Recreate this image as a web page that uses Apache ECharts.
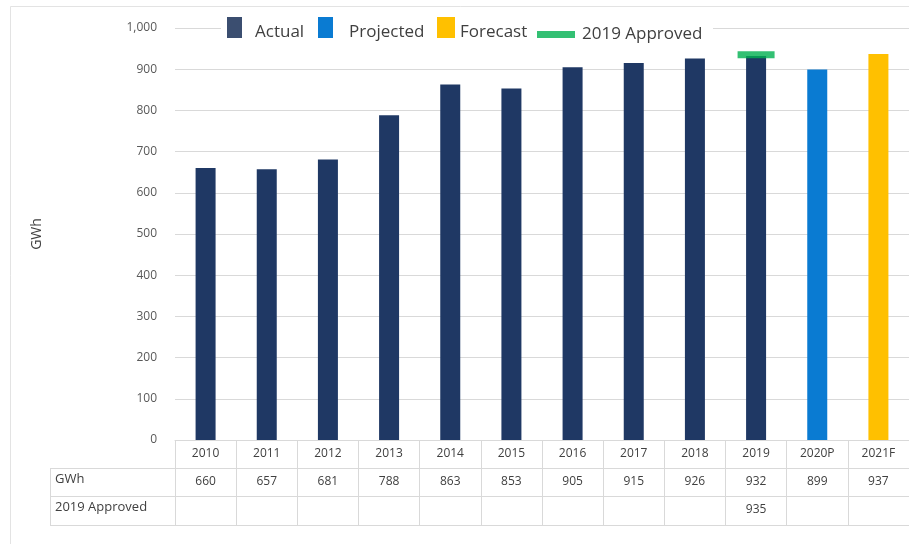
<!DOCTYPE html>
<html>
<head>
<meta charset="utf-8">
<script src="https://cdn.jsdelivr.net/npm/echarts@6/dist/echarts.min.js"></script>
<style>
  html, body { margin: 0; padding: 0; background: #fff; }
  #chart { width: 909px; height: 544px; }
</style>
</head>
<body>
<div id="chart"></div>
<script>
// Annual energy (GWh), actual through 2019, then projected and forecast
const categories = ['2010', '2011', '2012', '2013', '2014', '2015', '2016', '2017', '2018', '2019', '2020P', '2021F'];
const gwh = [660, 657, 681, 788, 863, 853, 905, 915, 926, 932, 899, 937];
const kind = ['A', 'A', 'A', 'A', 'A', 'A', 'A', 'A', 'A', 'A', 'P', 'F'];
const approved2019 = [null, null, null, null, null, null, null, null, null, 935, null, null];
const yTicks = [0, 100, 200, 300, 400, 500, 600, 700, 800, 900, 1000];

const FONT = '"Open Sans", "Liberation Sans", sans-serif';
const GRID_LINE = '#d9d9d9';
const TEXT = '#404040';

const onlyKind = k => gwh.map((v, i) => (kind[i] === k ? v : null));

const tableAxis = (offset, tickLen, formatter, showLabel) => ({
  type: 'category',
  data: categories,
  gridIndex: 0,
  position: 'bottom',
  offset: offset,
  axisLine: { show: true, lineStyle: { color: GRID_LINE, width: 1 } },
  axisTick: { show: tickLen > 0, length: tickLen, lineStyle: { color: GRID_LINE } },
  axisLabel: {
    show: showLabel, margin: 8, fontSize: 12, color: TEXT, fontFamily: FONT,
    formatter: formatter
  },
  splitLine: { show: false }
});

// one legend block per entry so each sits at its own spot;
// the label is nudged below the swatch's middle
const swatchLegend = (name, left, width, textPadLeft, color) => ({
  left: left, top: 17, padding: 0,
  itemWidth: width, itemHeight: 21,
  icon: 'rect',
  formatter: '{t|{name}}',
  textStyle: {
    fontSize: 17, color: TEXT, fontFamily: FONT,
    rich: { t: { fontSize: 17, color: TEXT, fontFamily: FONT, padding: [10, 0, 0, textPadLeft], verticalAlign: 'bottom' } }
  },
  data: [color ? { name: name, itemStyle: { color: color } } : name]
});

const chart = echarts.init(document.getElementById('chart'), null, { renderer: 'canvas' });

chart.setOption({
  backgroundColor: '#fff',
  animation: false,
  textStyle: { fontFamily: FONT },
  grid: { left: 175, top: 28, width: 738, height: 412 },
  legend: [
    swatchLegend('Actual', 227, 15, 8, '#3B4E70'),
    swatchLegend('Projected', 318, 15, 11),
    swatchLegend('Forecast', 437, 18, 0),
    {
      left: 537, top: 26, padding: 0,
      itemWidth: 38, itemHeight: 7,
      icon: 'rect',
      textStyle: { fontSize: 17, color: TEXT, fontFamily: FONT, padding: [0, 0, 0, 2] },
      data: ['2019 Approved']
    }
  ],
  xAxis: [
    tableAxis(0, 28, v => v, true),
    tableAxis(28, 28, (v, i) => String(gwh[i]), true),
    tableAxis(56, 29, (v, i) => (approved2019[i] == null ? '' : String(approved2019[i])), true),
    tableAxis(85, 0, () => '', false)
  ],
  yAxis: {
    type: 'value',
    min: yTicks[0],
    max: yTicks[yTicks.length - 1],
    interval: yTicks[1] - yTicks[0],
    name: 'GWh',
    nameLocation: 'middle',
    nameGap: 131,
    nameRotate: 90,
    nameTextStyle: { fontSize: 14, color: TEXT, fontFamily: FONT },
    axisLine: { show: false },
    axisTick: { show: false },
    axisLabel: {
      margin: 18, fontSize: 12, color: '#595959', fontFamily: FONT,
      formatter: v => v.toLocaleString('en-US')
    },
    splitLine: { lineStyle: { color: GRID_LINE, width: 1 } }
  },
  series: [
    {
      name: 'Actual', type: 'bar', stack: 'energy', barWidth: 20,
      itemStyle: { color: '#1F3864' }, data: onlyKind('A')
    },
    {
      name: 'Projected', type: 'bar', stack: 'energy', barWidth: 20,
      itemStyle: { color: '#0A7BD2' }, data: onlyKind('P')
    },
    {
      name: 'Forecast', type: 'bar', stack: 'energy', barWidth: 20,
      itemStyle: { color: '#FFC000' }, data: onlyKind('F')
    },
    {
      name: '2019 Approved', type: 'scatter', symbol: 'rect', symbolSize: [37, 7], z: 5,
      itemStyle: { color: '#00B050' }, data: approved2019
    }
  ],
  graphic: [
    // outer frame
    { type: 'rect', shape: { x: 10.5, y: 6.5, width: 940, height: 600 },
      style: { fill: 'none', stroke: '#e3e3e3', lineWidth: 1 }, silent: true },
    // white strip behind the legend, hiding the top gridline there
    { type: 'rect', z: 1, shape: { x: 221, y: 22, width: 492, height: 12 },
      style: { fill: '#fff' }, silent: true },
    // row-header column of the data table
    { type: 'line', shape: { x1: 50, y1: 468.5, x2: 175, y2: 468.5 }, style: { stroke: GRID_LINE } },
    { type: 'line', shape: { x1: 50, y1: 496.5, x2: 175, y2: 496.5 }, style: { stroke: GRID_LINE } },
    { type: 'line', shape: { x1: 50, y1: 525.5, x2: 175, y2: 525.5 }, style: { stroke: GRID_LINE } },
    { type: 'line', shape: { x1: 50.5, y1: 468, x2: 50.5, y2: 526 }, style: { stroke: GRID_LINE } },
    { type: 'text', left: 55, top: 473,
      style: { text: 'GWh', fontSize: 13, fill: TEXT, fontFamily: FONT } },
    { type: 'text', left: 55, top: 501,
      style: { text: '2019 Approved', fontSize: 13, fill: TEXT, fontFamily: FONT } }
  ]
});
</script>
</body>
</html>
